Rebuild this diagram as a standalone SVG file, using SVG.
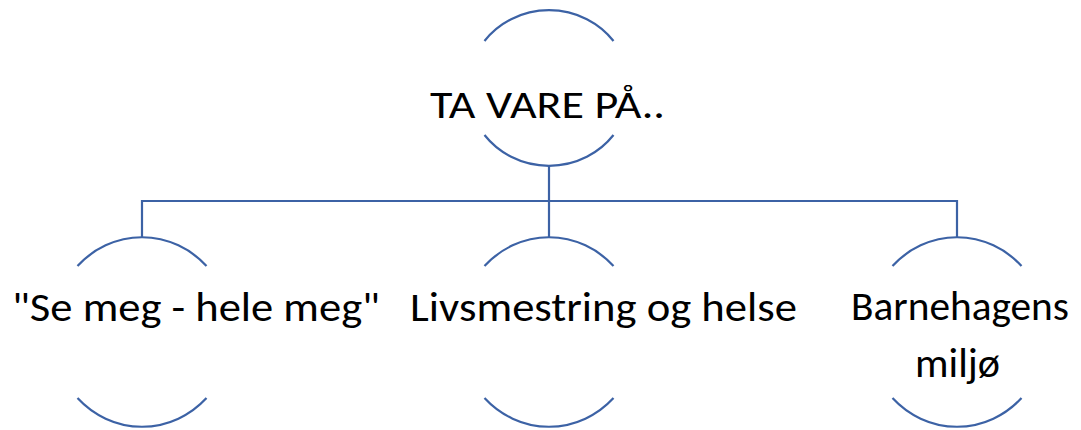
<svg xmlns="http://www.w3.org/2000/svg" width="1081" height="430" viewBox="0 0 1081 430">
<style>
.arc{fill:none;stroke:#3C62A5;stroke-width:2.2;}
.con{fill:none;stroke:#3C62A5;stroke-width:2.2;}
.lbl{font-family:Carlito,Calibri,Lato,"Open Sans",sans-serif;fill:#000;}
</style>
<rect width="1081" height="430" fill="#fff"/>
<g id="connectors">
<path class="con" d="M549 166 V201 M142 237 V201 H957 V237 M549 201 V237"/>
</g>
<g id="node-top">
<path class="arc" d="M484.5 41 A81 78 0 0 1 613.5 41"/>
<path class="arc" d="M484.5 135 A81 78 0 0 0 613.5 135"/>
<text class="lbl" x="430" y="118" font-size="38.5" textLength="235" lengthAdjust="spacingAndGlyphs">TA VARE PÅ..</text>
</g>
<g id="node-se-meg">
<path class="arc" d="M77.5 266 A90 95 0 0 1 206.5 266"/>
<path class="arc" d="M77.5 398 A90 95 0 0 0 206.5 398"/>
<text class="lbl" x="12" y="320.5" font-size="40.5" textLength="368" lengthAdjust="spacingAndGlyphs">"Se meg - hele meg"</text>
</g>
<g id="node-livsmestring">
<path class="arc" d="M484.5 266 A90 95 0 0 1 613.5 266"/>
<path class="arc" d="M484.5 398 A90 95 0 0 0 613.5 398"/>
<text class="lbl" x="410" y="321" font-size="40.5" textLength="387" lengthAdjust="spacingAndGlyphs">Livsmestring og helse</text>
</g>
<g id="node-barnehagens">
<path class="arc" d="M892.5 266 A90 95 0 0 1 1021.5 266"/>
<path class="arc" d="M892.5 398 A90 95 0 0 0 1021.5 398"/>
<text class="lbl" font-size="40.5"><tspan x="851" y="319.5" textLength="218" lengthAdjust="spacingAndGlyphs">Barnehagens</tspan><tspan x="915" y="376.5" textLength="85" lengthAdjust="spacingAndGlyphs">miljø</tspan></text>
</g>
</svg>
